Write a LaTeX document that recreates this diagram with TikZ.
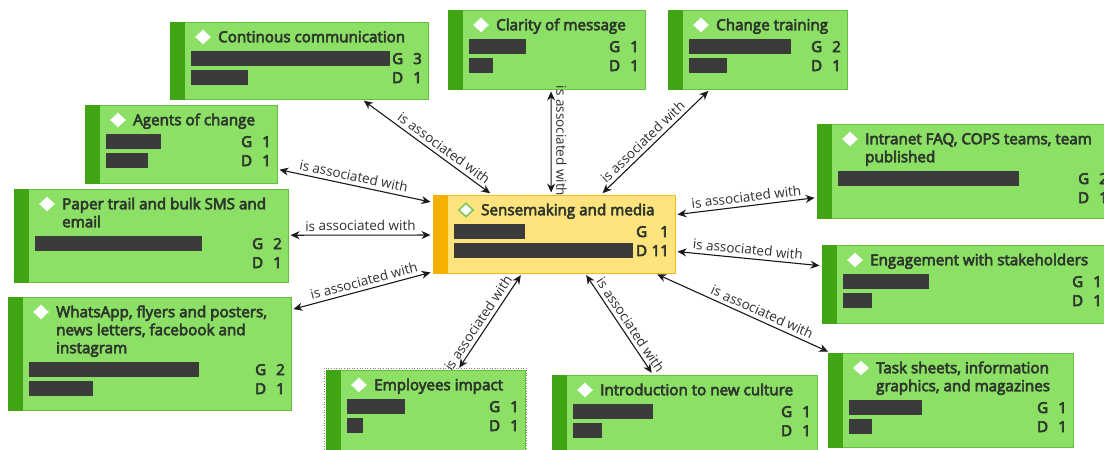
\documentclass[tikz,border=0pt]{standalone}
\usepackage{fontspec}
\setmainfont{Open Sans}
\newfontfamily\titlefont[FakeBold=4]{Open Sans}
\usetikzlibrary{arrows.meta,calc,shapes.geometric}
\definecolor{cgreen}{HTML}{8CE066}
\definecolor{cgreenline}{HTML}{66C040}
\definecolor{cgreenbar}{HTML}{3FA512}
\definecolor{cyellow}{HTML}{FFE47E}
\definecolor{cyellowline}{HTML}{F3BA24}
\definecolor{cyellowbar}{HTML}{F6B100}
\definecolor{cbar}{HTML}{3B3B3B}
\definecolor{ctext}{HTML}{2E372C}
\definecolor{clabel}{HTML}{303030}

\tikzset{
  boxg/.style={rectangle, draw=cgreenline, fill=cgreen, line width=1pt, inner sep=0pt},
  boxy/.style={rectangle, draw=cyellowline, fill=cyellow, line width=1pt, inner sep=0pt},
  stripeg/.style={fill=cgreenbar},
  stripey/.style={fill=cyellowbar},
  diamg/.style={diamond, fill=white, draw=white, line width=0.6pt, minimum width=15pt, minimum height=14pt, inner sep=0pt},
  diamy/.style={diamond, fill=white, draw=cgreenline!85!white, line width=1.6pt, minimum width=15pt, minimum height=14pt, inner sep=0pt},
  titletext/.style={font=\titlefont\fontsize{15.2}{18}\selectfont, text=ctext, align=left, inner sep=0pt, anchor=north west},
  count/.style={font=\titlefont\fontsize{15}{18}\selectfont, text=ctext, inner sep=0pt},
  bar/.style={fill=cbar},
  assoc/.style={draw=black!90, line width=1.1pt,
    {Stealth[length=9pt,width=8pt]}-{Stealth[length=9pt,width=8pt]},
    shorten <=2pt, shorten >=2pt},
  lbltext/.style={font=\fontsize{13.5}{16}\selectfont, text=clabel, inner sep=1.5pt},
  lbl/.style={lbltext, sloped, above=2pt},
  lblv/.style={lbltext, rotate=-90, anchor=south, yshift=3pt}
}

% concept box: name, left, top, right, bottom, kind (g/y), title lines, title
\newcommand\concept[8]{%
  \def\boxL{#2}\def\boxT{#3}\def\boxR{#4}\def\boxN{#7}%
  \node[box#6, minimum width={#4-#2}, minimum height={#5-#3}] (#1) at ({(#2+#4)/2},{(#3+#5)/2}) {};
  \fill[stripe#6] ({#2-0.5},{#3-0.5}) rectangle ({#2+15},{#5+0.5});
  \node[diam#6] (#1-icon) at ({#2+33},{#3+15}) {};
  \node[titletext] (#1-title) at ({#2+48},{#3+7.4}) {\strut#8};
}
% bars and counts: [letter offset], name, bar1 end, bar2 end (may be empty), G, D
\newcommand\counts[6][36]{%
  \pgfmathsetmacro\barY{\boxT+15+18*(\boxN-1)}%
  \fill[bar] ({\boxL+21},{\barY+14}) rectangle (#3,{\barY+29});
  \if\relax\detokenize{#4}\relax\else
    \fill[bar] ({\boxL+21},{\barY+33}) rectangle (#4,{\barY+48});
  \fi
  \node[count, anchor=base west] (#2-g) at ({\boxR-#1},{\barY+27}) {G};
  \node[count, anchor=base east] (#2-gn) at ({\boxR-6},{\barY+27}) {#5};
  \node[count, anchor=base west] (#2-d) at ({\boxR-#1},{\barY+46}) {D};
  \node[count, anchor=base east] (#2-dn) at ({\boxR-6},{\barY+46}) {#6};
}

\begin{document}
\begin{tikzpicture}[x=1pt,y=-1pt]
\useasboundingbox (0,0) rectangle (1104,450);
\clip (0,0) rectangle (1104,450);
\fill[white] (0,0) rectangle (1104,450);

\concept{cc}{170}{22}{428}{99}{g}{1}{Continous communication}
\counts{cc}{390}{248}{3}{1}
\concept{cl}{448}{10}{645}{89}{g}{1}{Clarity of message}
\counts{cl}{526}{493}{1}{1}
\concept{ct}{668}{10}{847}{89}{g}{1}{Change training}
\counts{ct}{791}{727}{2}{1}
\concept{ag}{85}{105}{277}{183}{g}{1}{Agents of change}
\counts{ag}{161}{148}{1}{1}
\concept{sm}{433}{195}{675}{273}{y}{1}{Sensemaking and media}
\counts[39]{sm}{525}{633}{1}{11}
\concept{in}{817}{124}{1114}{218}{g}{2}{Intranet FAQ, COPS teams, team\\published}
\counts{in}{1019}{}{2}{1}
\concept{pt}{14}{189}{288}{282}{g}{2}{Paper trail and bulk SMS and\\email}
\counts{pt}{202}{}{2}{1}
\concept{wa}{8}{297}{291}{410}{g}{3}{WhatsApp, flyers and posters,\\news letters, facebook and\\instagram}
\counts{wa}{199}{93}{2}{1}
\concept{em}{326}{370}{525}{462}{g}{1}{Employees impact}
\counts{em}{405}{363}{1}{1}
\draw[gray, dotted, line width=0.6pt] (324.5,368) rectangle (526.5,462);
\concept{it}{552}{375}{817}{462}{g}{1}{Introduction to new culture}
\counts{it}{653}{602}{1}{1}
\concept{en}{822}{245}{1108}{323}{g}{1}{Engagement with stakeholders}
\counts{en}{929}{872}{1}{1}
\concept{ts}{828}{353}{1073}{447}{g}{2}{Task sheets, information\\graphics, and magazines}
\counts{ts}{922}{872}{1}{1}

% associations to the central concept
\draw[assoc] ($(cc.south west)!0.744!(cc.south east)$) -- node[lbl, pos=0.59] (l-cc) {is associated with} ($(sm.north west)!0.244!(sm.north east)$);
\draw[assoc] ($(cl.south west)!0.523!(cl.south east)$) -- node[lblv, pos=0.49] (l-cl) {is associated with} ($(sm.north west)!0.488!(sm.north east)$);
\draw[assoc] ($(ct.south west)!0.235!(ct.south east)$) -- node[lbl, pos=0.56] (l-ct) {is associated with} ($(sm.north west)!0.694!(sm.north east)$);
\draw[assoc] ($(ag.north east)!0.82!(ag.south east)$) -- node[lbl, pos=0.48] (l-ag) {is associated with} ($(sm.north west)!0.10!(sm.south west)$);
\draw[assoc] ($(pt.north east)!0.497!(pt.south east)$) -- node[lbl, pos=0.5] (l-pt) {is associated with} ($(sm.north west)!0.513!(sm.south west)$);
\draw[assoc] ($(wa.north east)!0.115!(wa.south east)$) -- node[lbl, pos=0.53] (l-wa) {is associated with} ($(sm.north west)!0.98!(sm.south west)$);
\draw[assoc] ($(em.north west)!0.663!(em.north east)$) -- node[lbl, pos=0.43] (l-em) {is associated with} ($(sm.south west)!0.368!(sm.south east)$);
\draw[assoc] ($(it.north west)!0.381!(it.north east)$) -- node[lbl, pos=0.44] (l-it) {is associated with} ($(sm.south west)!0.628!(sm.south east)$);
\draw[assoc] ($(in.north west)!0.78!(in.south west)$) -- node[lbl, pos=0.49] (l-in) {is associated with} ($(sm.north east)!0.256!(sm.south east)$);
\draw[assoc] ($(en.north west)!0.27!(en.south west)$) -- node[lbl, pos=0.51] (l-en) {is associated with} ($(sm.north east)!0.72!(sm.south east)$);
\draw[assoc] ($(ts.north west)!0.01!(ts.north east)$) -- node[lbl, pos=0.41] (l-ts) {is associated with} ($(sm.south west)!0.917!(sm.south east)$);
\end{tikzpicture}
\end{document}
